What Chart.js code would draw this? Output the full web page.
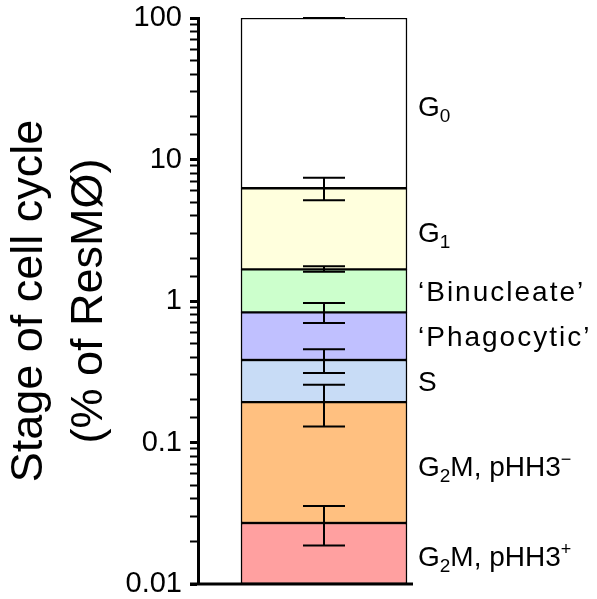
<!DOCTYPE html>
<html>
<head>
<meta charset="utf-8">
<script src="https://cdn.jsdelivr.net/npm/chart.js@4.4.1/dist/chart.umd.min.js"></script>
<style>
  html, body { margin: 0; padding: 0; background: #fff; }
  #wrap { width: 597px; height: 599px; }
</style>
</head>
<body>
<div id="wrap"><canvas id="cellCycleChart"></canvas></div>
<script>
// stages from the bottom of the bar upwards
const stages = ['G₂M, pHH3⁺', 'G₂M, pHH3⁻', 'S', '‘Phagocytic’', '‘Binucleate’', 'G₁', 'G₀'];
// cumulative % of ResMØ reached at the top of each stage
const stageTops = [0.027, 0.193, 0.383, 0.832, 1.675, 6.26, 100];
const errLow = [0.0187, 0.130, 0.31, 0.699, 1.61, 5.15, 100];
const errHigh = [0.0356, 0.256, 0.456, 0.968, 1.76, 7.44, 100];
const stageColors = ['#FFA0A0', '#FFC080', '#C8DCF6', '#C0C0FF', '#CCFFCC', '#FFFFDD', '#FFFFFF'];
const tickLabels = ['0.01', '0.1', '1', '10', '100'];
const axisMin = 0.01;
const axisMax = 100;

const FONT = 'Arial, "Liberation Sans", sans-serif';

function isDecade(v) {
    const e = Math.log10(v);
    return Math.abs(e - Math.round(e)) < 1e-6;
}

const datasets = stages.map(function (name, i) {
    const bottom = i === 0 ? axisMin : stageTops[i - 1];
    return {
        label: name,
        data: [[bottom, stageTops[i]]],
        backgroundColor: stageColors[i],
        borderColor: '#000',
        borderWidth: 1.5,
        borderSkipped: false,
        grouped: false,
        barThickness: 166,
    };
});

// one glyph at a time so subscripts / superscripts can be shrunk and shifted
function drawStageLabel(ctx, text, x, y, spacing) {
    const sub = { '₀': '0', '₁': '1', '₂': '2' };
    const sup = { '⁺': '+', '⁻': '−' };
    let cx = x;
    for (const ch of text) {
        let s = ch, dy = 0, size = 28;
        if (sub[ch]) { s = sub[ch]; dy = 6; size = 19; }
        else if (sup[ch]) { s = sup[ch]; dy = -11; size = 18; }
        ctx.font = size + 'px ' + FONT;
        ctx.fillText(s, cx, y + dy);
        cx += ctx.measureText(s).width + spacing;
    }
}

const overlay = {
    id: 'overlay',
    afterDatasetsDraw(chart) {
        const ctx = chart.ctx;
        const y = chart.scales.y;
        const bar = chart.getDatasetMeta(0).data[0];
        const cx = bar.x;
        const half = 21;

        ctx.save();
        ctx.strokeStyle = '#000';
        ctx.lineWidth = 2;
        stages.forEach(function (name, i) {
            const yl = y.getPixelForValue(errLow[i]);
            const yh = y.getPixelForValue(errHigh[i]);
            ctx.beginPath();
            ctx.moveTo(cx, yl); ctx.lineTo(cx, yh);
            ctx.moveTo(cx - half, yl); ctx.lineTo(cx + half, yl);
            ctx.moveTo(cx - half, yh); ctx.lineTo(cx + half, yh);
            ctx.stroke();
        });

        // x baseline
        const area = chart.chartArea;
        ctx.lineWidth = 3;
        ctx.beginPath();
        ctx.moveTo(area.left - 8, area.bottom);
        ctx.lineTo(cx + bar.width / 2 + 6, area.bottom);
        ctx.stroke();

        // stage names beside the bar
        ctx.fillStyle = '#000';
        ctx.textBaseline = 'alphabetic';
        ctx.textAlign = 'left';
        const lx = cx + bar.width / 2 + 11;
        stages.forEach(function (name, i) {
            const bottom = i === 0 ? axisMin : stageTops[i - 1];
            const mid = y.getPixelForValue(Math.sqrt(bottom * stageTops[i]));
            const hasSub = /[₀₁₂]/.test(name);
            const spacing = name.startsWith('‘') ? 2 : 0;
            drawStageLabel(ctx, name, lx, mid + 10 + (hasSub ? 3 : 0), spacing);
        });
        ctx.restore();
    }
};

new Chart(document.getElementById('cellCycleChart').getContext('2d'), {
    type: 'bar',
    data: { labels: [''], datasets: datasets },
    options: {
        responsive: true,
        maintainAspectRatio: false,
        animation: false,
        layout: { padding: { left: 0, right: 147, top: 18, bottom: 15 } },
        plugins: {
            legend: { display: false },
            tooltip: { enabled: false },
        },
        scales: {
            x: { display: false },
            y: {
                type: 'logarithmic',
                min: axisMin,
                max: axisMax,
                afterFit: function (scale) {
                    scale.width = 198;
                    scale.paddingTop = 0;
                    scale.paddingBottom = 0;
                },
                border: { display: true, color: '#000', width: 3 },
                grid: {
                    drawOnChartArea: false,
                    drawTicks: true,
                    tickLength: 8,
                    tickColor: '#000',
                    tickWidth: function (c) { return c.tick && isDecade(c.tick.value) ? 3 : 2; },
                },
                ticks: {
                    autoSkip: false,
                    padding: 8,
                    color: '#000',
                    font: { family: FONT, size: 29, lineHeight: 1 },
                    callback: function (value) {
                        if (!isDecade(value)) return '';
                        return tickLabels[Math.round(Math.log10(value) - Math.log10(axisMin))];
                    },
                },
                title: {
                    display: true,
                    text: ['Stage of cell cycle', '(% of ResMØ)'],
                    color: '#000',
                    padding: { top: 0, bottom: 0 },
                    font: { family: FONT, size: 45, lineHeight: 1.33 },
                },
            },
        },
    },
    plugins: [overlay],
});
</script>
</body>
</html>
